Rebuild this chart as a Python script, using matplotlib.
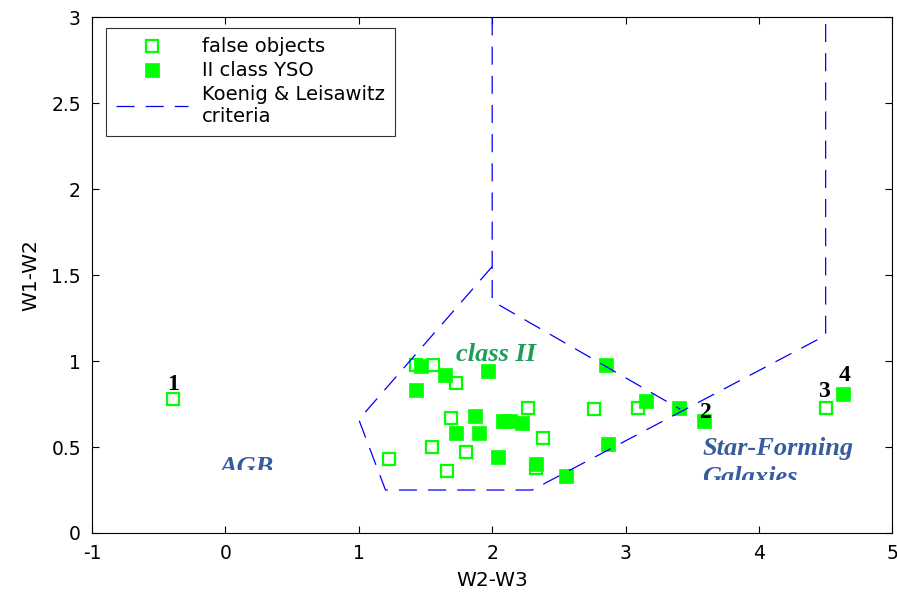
import matplotlib
matplotlib.use("Agg")
import matplotlib.pyplot as plt
from matplotlib.patches import Rectangle

# false objects (hollow squares)
false_x = [-0.39, 1.43, 1.56, 1.73, 1.69, 2.27, 2.76, 3.09, 2.38, 1.55, 1.80, 1.23, 1.66, 2.33, 4.50]
false_y = [0.78, 0.98, 0.98, 0.87, 0.67, 0.73, 0.72, 0.73, 0.55, 0.50, 0.47, 0.43, 0.36, 0.38, 0.73]

# II class YSO (filled squares)
yso_x = [1.47, 1.65, 1.43, 1.97, 2.85, 1.87, 2.08, 2.13, 2.22, 1.73, 1.90, 2.04, 2.33, 2.55, 2.87,
         3.15, 3.40, 3.59, 4.63]
yso_y = [0.97, 0.92, 0.83, 0.94, 0.98, 0.68, 0.65, 0.65, 0.64, 0.58, 0.58, 0.44, 0.40, 0.33, 0.52,
         0.77, 0.73, 0.65, 0.81]

# Koenig & Leisawitz criteria boundaries
crit1_x = [2.0, 2.0, 3.41]
crit1_y = [3.0, 1.35, 0.72]
crit2_x = [2.0, 1.0, 1.2, 2.3, 4.5, 4.5]
crit2_y = [1.55, 0.66, 0.25, 0.25, 1.15, 3.0]

# numbered objects
num_labels = ["1", "2", "3", "4"]
num_x = [-0.39, 3.60, 4.49, 4.645]
num_y = [0.83, 0.67, 0.79, 0.885]

plt.rcParams["lines.scale_dashes"] = False
plt.rcParams["axes.unicode_minus"] = False
plt.rcParams["font.family"] = ["DejaVu Sans"]

fig = plt.figure(figsize=(8.97, 5.92), dpi=100)
ax = fig.add_axes([0.1026, 0.0997, 0.8922, 0.8708])

green = (0, 1, 0)
blue = (0, 0, 1)
dash = (13, 8)

ax.plot(false_x, false_y, "s", ls="none", mfc="white", mec=green, mew=1.6, ms=8.5,
        label="false objects")
ax.plot(yso_x, yso_y, "s", ls="none", mfc=green, mec=green, mew=0.5, ms=10.5,
        label="II class YSO")
ax.plot(crit1_x, crit1_y, color=blue, lw=0.9, dashes=dash,
        label="Koenig & Leisawitz\ncriteria")
ax.plot(crit2_x, crit2_y, color=blue, lw=0.9, dashes=dash)

serif = ["Liberation Serif", "DejaVu Serif"]
for s, x, y in zip(num_labels, num_x, num_y):
    ax.text(x, y, s, ha="center", va="baseline", fontsize=17, fontweight="bold",
            family=serif, color="black")

ax.text(2.03, 1.0, "class II", ha="center", va="baseline", fontsize=19,
        fontweight="bold", style="italic", family=serif, color="#1a9e58")

region_col = "#365c9e"
t = ax.text(0.16, 0.343, "AGB", ha="center", va="baseline", fontsize=19,
            fontweight="bold", style="italic", family=serif, color=region_col,
            clip_on=True)
t.set_clip_path(Rectangle((-1, 0.367), 6, 3, transform=ax.transData))
ax.text(3.575, 0.454, "Star-Forming", ha="left", va="baseline", fontsize=19,
        fontweight="bold", style="italic", family=serif, color=region_col)
t = ax.text(3.575, 0.285, "Galaxies", ha="left", va="baseline", fontsize=19,
            fontweight="bold", style="italic", family=serif, color=region_col,
            clip_on=True)
t.set_clip_path(Rectangle((-1, 0.308), 6, 3, transform=ax.transData))

ax.set_xlim(-1, 5)
ax.set_ylim(0, 3)
ax.set_xticks(range(-1, 6))
ax.set_yticks([0, 0.5, 1, 1.5, 2, 2.5, 3])
ax.set_yticklabels(["0", "0.5", "1", "1.5", "2", "2.5", "3"])
ax.tick_params(direction="in", top=True, right=True, labelsize=13.5, length=5, width=0.8,
               pad=8)
for sp in ax.spines.values():
    sp.set_linewidth(0.8)
ax.set_xlabel("W2-W3", fontsize=14.5, labelpad=6)
ax.set_ylabel("W1-W2", fontsize=14.5, labelpad=8)

leg = ax.legend(loc="upper left", bbox_to_anchor=(0.0175, 0.98), borderaxespad=0,
                fontsize=14, fancybox=False, framealpha=1, edgecolor="#333333",
                handlelength=3.7, borderpad=0.5, labelspacing=0.25, handletextpad=0.75)
leg.get_frame().set_linewidth(0.8)

fig.savefig("out.png", dpi=100)
